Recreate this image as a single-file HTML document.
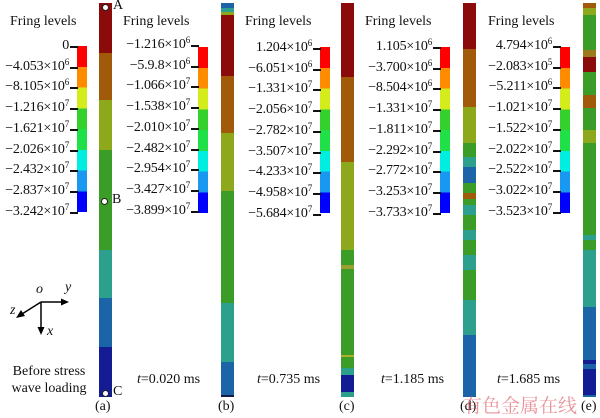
<!DOCTYPE html>
<html><head><meta charset="utf-8"><style>
body{margin:0;width:600px;height:416px;background:#fff;position:relative;overflow:hidden;font-family:"Liberation Serif","Noto Serif CJK SC",serif;color:#111}
.a{position:absolute;white-space:nowrap}
.t{font-size:14px}
.lab{font-size:14px;text-align:right;line-height:14px;letter-spacing:-0.2px}
.lab sup{font-size:9px;vertical-align:5px;line-height:0}
.cb{position:absolute;width:10px;height:166px;background:linear-gradient(#ff0000 0 12.5%,#ff8c00 12.5% 25%,#d4ec1c 25% 37.5%,#34d02c 37.5% 50%,#20e048 50% 62.5%,#00eee0 62.5% 75%,#1898f0 75% 87.5%,#0000ff 87.5%)}
.tick{position:absolute;height:2px;width:8px;background:#111}
.bar{position:absolute;top:3px;height:394px;width:13px}
.dot{position:absolute;width:5px;height:5px;border-radius:50%;background:#fff;border:1px solid #222}
</style></head><body>

<div class="bar" style="left:99px;background:linear-gradient(#8b0a0a 0 50px,#a05a0a 50px 97px,#8da81a 97px 147px,#3c9c28 147px 247px,#2ca08c 247px 295px,#1c64a8 295px 344px,#141c94 344px)"></div>
<div class="bar" style="left:221px;background:linear-gradient(#1c64a8 0 5px,#2ca08c 5px 9px,#8da81a 9px 12px,#8b0a0a 12px 73px,#a05a0a 73px 130px,#8da81a 130px 188px,#3c9c28 188px 300px,#2ca08c 300px 359px,#1c64a8 359px 392px,#141c44 392px)"></div>
<div class="bar" style="left:341px;background:linear-gradient(#8b0a0a 0 74px,#a05a0a 74px 159px,#8da81a 159px 247px,#3c9c28 247px 262px,#9aa030 262px 266px,#3c9c28 266px 352px,#b0b030 352px 354px,#3c9c28 354px 365px,#2ca08c 365px 372px,#141c94 372px 389px,#2ca08c 389px)"></div>
<div class="bar" style="left:463px;background:linear-gradient(#8b0a0a 0 46px,#a05a0a 46px 104px,#8da81a 104px 140px,#3c9c28 140px 154px,#2ca08c 154px 164px,#1c64a8 164px 180px,#3c9c28 180px 190px,#a05a0a 190px 196px,#3c9c28 196px 202px,#2ca08c 202px 212px,#3c9c28 212px 227px,#2ca08c 227px 237px,#3c9c28 237px 252px,#2ca08c 252px 267px,#3c9c28 267px 297px,#2ca08c 297px 332px,#1c64a8 332px)"></div>
<div class="bar" style="left:583px;background:linear-gradient(#a05a0a 0 5px,#8da81a 5px 12px,#3c9c28 12px 47px,#9a7a1a 47px 54px,#8b0a0a 54px 69px,#3c9c28 69px 92px,#a05a0a 92px 105px,#3c9c28 105px 127px,#8da81a 127px 140px,#3c9c28 140px 232px,#2ca08c 232px 237px,#3c9c28 237px 247px,#2ca08c 247px 304px,#1c64a8 304px 357px,#141c94 357px 361px,#1c64a8 361px 366px,#141c94 366px 392px,#1c64a8 392px)"></div>

<div class="dot" style="left:102px;top:4px"></div>
<div class="dot" style="left:101px;top:198px"></div>
<div class="dot" style="left:102px;top:390px"></div>
<div class="a t" style="left:113px;top:-2px">A</div>
<div class="a t" style="left:112px;top:192px">B</div>
<div class="a t" style="left:113px;top:384px">C</div>

<div class="a t" style="left:10px;top:14px">Fring levels</div>
<div class="a t" style="left:123px;top:14px">Fring levels</div>
<div class="a t" style="left:245px;top:14px">Fring levels</div>
<div class="a t" style="left:365px;top:14px">Fring levels</div>
<div class="a t" style="left:488px;top:14px">Fring levels</div>

<div class="cb" style="left:77px;top:46px"></div>
<div class="cb" style="left:198px;top:47px"></div>
<div class="cb" style="left:320px;top:47px"></div>
<div class="cb" style="left:440px;top:47px"></div>
<div class="cb" style="left:560px;top:47px"></div>

<div id="L"></div>
<script>
var L=[
[69,46,["0","−4.053×10<sup>6</sup>","−8.105×10<sup>6</sup>","−1.216×10<sup>7</sup>","−1.621×10<sup>7</sup>","−2.026×10<sup>7</sup>","−2.432×10<sup>7</sup>","−2.837×10<sup>7</sup>","−3.242×10<sup>7</sup>"]],
[190,45,["−1.216×10<sup>6</sup>","−5.9.8×10<sup>6</sup>","−1.066×10<sup>7</sup>","−1.538×10<sup>7</sup>","−2.010×10<sup>7</sup>","−2.482×10<sup>7</sup>","−2.954×10<sup>7</sup>","−3.427×10<sup>7</sup>","−3.899×10<sup>7</sup>"]],
[312,48,["1.204×10<sup>6</sup>","−6.051×10<sup>6</sup>","−1.331×10<sup>7</sup>","−2.056×10<sup>7</sup>","−2.782×10<sup>7</sup>","−3.507×10<sup>7</sup>","−4.233×10<sup>7</sup>","−4.958×10<sup>7</sup>","−5.684×10<sup>7</sup>"]],
[432,47,["1.105×10<sup>6</sup>","−3.700×10<sup>6</sup>","−8.504×10<sup>6</sup>","−1.331×10<sup>7</sup>","−1.811×10<sup>7</sup>","−2.292×10<sup>7</sup>","−2.772×10<sup>7</sup>","−3.253×10<sup>7</sup>","−3.733×10<sup>7</sup>"]],
[552,46,["4.794×10<sup>6</sup>","−2.083×10<sup>5</sup>","−5.211×10<sup>6</sup>","−1.021×10<sup>7</sup>","−1.522×10<sup>7</sup>","−2.022×10<sup>7</sup>","−2.522×10<sup>7</sup>","−3.022×10<sup>7</sup>","−3.523×10<sup>7</sup>"]]];
var h="";
L.forEach(function(g){for(var i=0;i<9;i++){var y=g[1]+i*20.7;
h+='<div class="a lab" style="right:'+(600-g[0])+'px;top:'+(y-7)+'px">'+g[2][i]+'</div>';
h+='<div class="tick" style="left:'+(g[0]+1)+'px;top:'+y+'px"></div>';}});
document.getElementById("L").innerHTML=h;
</script>

<svg class="a" style="left:0;top:280px" width="90" height="70">
<g stroke="#000" stroke-width="1.5" fill="#000">
<line x1="41" y1="22" x2="63" y2="22"/><polygon points="69,22 61,18.5 61,25.5" stroke="none"/>
<line x1="41" y1="22" x2="22" y2="34"/><polygon points="16,38 21,30 25,36" stroke="none"/>
<line x1="41" y1="22" x2="41" y2="48"/><polygon points="41,55 37.5,47 44.5,47" stroke="none"/>
</g></svg>
<div class="a t" style="left:36px;top:282px;font-style:italic">o</div>
<div class="a t" style="left:65px;top:280px;font-style:italic">y</div>
<div class="a t" style="left:10px;top:303px;font-style:italic">z</div>
<div class="a t" style="left:47px;top:324px;font-style:italic">x</div>

<div class="a t" style="left:5px;top:363px;width:88px;text-align:center;line-height:17px">Before stress<br>wave loading</div>
<div class="a t" style="left:137px;top:372px"><i>t</i>=0.020 ms</div>
<div class="a t" style="left:257px;top:372px"><i>t</i>=0.735 ms</div>
<div class="a t" style="left:381px;top:372px"><i>t</i>=1.185 ms</div>
<div class="a t" style="left:497px;top:372px"><i>t</i>=1.685 ms</div>

<div class="a t" style="left:95px;top:399px">(a)</div>
<div class="a t" style="left:218px;top:399px">(b)</div>
<div class="a t" style="left:339px;top:399px">(c)</div>
<div class="a t" style="left:460px;top:399px">(d)</div>
<div class="a t" style="left:581px;top:399px">(e)</div>

<div class="a" style="left:463px;top:391px;font-size:19px;color:rgba(220,90,100,0.65);font-family:'Liberation Serif','Noto Serif CJK SC',serif">有色金属在线</div>
</body></html>
